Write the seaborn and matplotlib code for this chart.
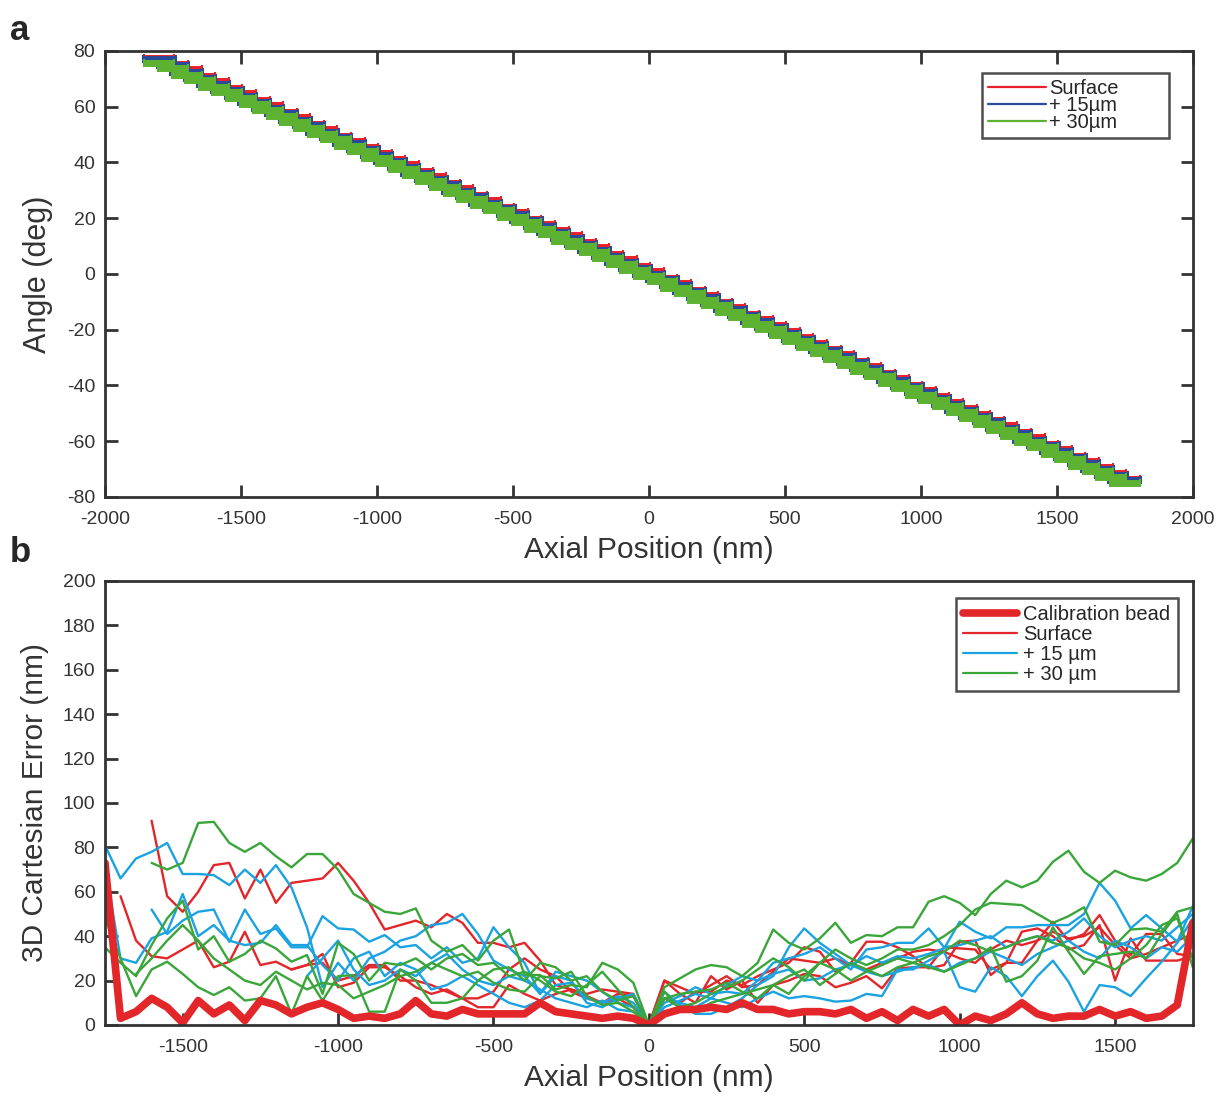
import matplotlib
matplotlib.use("Agg")
import matplotlib.pyplot as plt
from matplotlib.lines import Line2D
import seaborn as sns
import pandas as pd
import numpy as np

nan = np.nan

# ---------------- panel a: angle vs axial position ----------------
pos_a = [-1800, -1750, -1700, -1650, -1600, -1550, -1500, -1450, -1400, -1350,
         -1300, -1250, -1200, -1150, -1100, -1050, -1000, -950, -900, -850,
         -800, -750, -700, -650, -600, -550, -500, -450, -400, -350,
         -300, -250, -200, -150, -100, -50, 0, 50, 100, 150,
         200, 250, 300, 350, 400, 450, 500, 550, 600, 650,
         700, 750, 800, 850, 900, 950, 1000, 1050, 1100, 1150,
         1200, 1250, 1300, 1350, 1400, 1450, 1500, 1550, 1600, 1650,
         1700, 1750]

angle_surface = [77.3, 75.2, 73.4, 70.9, 69.1, 66.6, 64.8, 62.4, 60.6, 58.2, 56.3, 53.9, 52.0, 49.6,
                 47.8, 45.4, 43.5, 41.1, 39.3, 36.8, 35.0, 32.6, 30.8, 28.3, 26.5, 24.1, 22.3, 19.8,
                 18.0, 15.6, 13.8, 11.3, 9.5, 7.0, 5.2, 2.8, 0.9, -1.4, -3.4, -5.6, -7.5, -9.9,
                 -11.8, -14.2, -16.1, -18.4, -20.3, -22.7, -24.6, -26.9, -28.8, -31.2, -33.1, -35.4,
                 -37.3, -39.7, -41.6, -43.9, -45.8, -48.2, -50.1, -52.4, -54.3, -56.7, -58.6, -60.9,
                 -62.8, -65.2, -67.1, -69.4, -71.4, -73.6]
angle_15um = [77.0, 74.8, 72.4, 70.3, 68.1, 66.1, 63.9, 61.8, 59.6, 57.6, 55.4, 53.3, 51.1, 49.1,
              46.9, 44.8, 42.6, 40.6, 38.4, 36.3, 34.1, 32.1, 29.9, 27.8, 25.6, 23.6, 21.4, 19.3,
              17.1, 15.1, 12.9, 10.8, 8.6, 6.6, 4.4, 2.3, 0.1, -1.9, -4.1, -6.2, -8.4, -10.4,
              -12.6, -14.7, -16.9, -18.9, -21.1, -23.2, -25.4, -27.4, -29.6, -31.7, -33.9, -35.9,
              -38.1, -40.2, -42.4, -44.4, -46.6, -48.7, -50.9, -52.9, -55.1, -57.2, -59.4, -61.4,
              -63.6, -65.7, -67.9, -69.9, -72.1, -74.0]
angle_30um = [75.7, 73.8, 71.5, 69.5, 67.2, 65.3, 63.0, 61.0, 58.7, 56.8, 54.5, 52.5, 50.2, 48.3,
              46.0, 44.0, 41.7, 39.8, 37.5, 35.5, 33.2, 31.3, 29.0, 27.0, 24.7, 22.8, 20.5, 18.5,
              16.2, 14.3, 12.0, 10.0, 7.7, 5.8, 3.5, 1.5, -0.8, -2.7, -5.0, -7.0, -9.3, -11.2,
              -13.5, -15.5, -17.8, -19.7, -22.0, -24.0, -26.3, -28.2, -30.5, -32.5, -34.8, -36.7,
              -39.0, -41.0, -43.3, -45.2, -47.5, -49.5, -51.8, -53.7, -56.0, -58.0, -60.3, -62.2,
              -64.5, -66.5, -68.8, -70.7, -73.0, -74.9]
pos_err_a = [55, 60, 55]  # surface, +15, +30 (nm)

# ---------------- panel b: 3D error vs axial position ----------------
pos_b = [-1750, -1700, -1650, -1600, -1550, -1500, -1450, -1400, -1350, -1300,
         -1250, -1200, -1150, -1100, -1050, -1000, -950, -900, -850, -800,
         -750, -700, -650, -600, -550, -500, -450, -400, -350, -300,
         -250, -200, -150, -100, -50, 0, 50, 100, 150, 200,
         250, 300, 350, 400, 450, 500, 550, 600, 650, 700,
         750, 800, 850, 900, 950, 1000, 1050, 1100, 1150, 1200,
         1250, 1300, 1350, 1400, 1450, 1500, 1550, 1600, 1650, 1700, 1750]

cal_bead = [73, 3, 6, 12, 8, 1, 11, 5, 9, 2, 11, 9, 5, 8, 10, 7, 3, 4, 3, 5,
            11, 5, 4, 7, 5, 5, 5, 5, 10, 6, 5, 4, 3, 4, 3, 0,
            5, 7, 7, 8, 7, 10, 7, 7, 5, 6, 6, 5, 7, 3, 6, 2, 7, 4, 7, 0,
            4, 2, 5, 10, 5, 3, 4, 4, 7, 4, 6, 3, 4, 9, 46]

surf_1 = [nan, nan, nan,
          92, 58, 51, 60, 72, 73, 57, 70, 55, 64, 65, 66, 73, 65, 55, 43, 45, 47, 44, 50,
          46, 37, 37, 35, 37, 29, 18, 16, 13, 10, 14, 13, 0,
          20, 17, 14, 18, 22, 17, 18, 24, 30, 29, 28, 30, 27, 25, 28, 30, 33, 34, 33, 30,
          28, 34, 38, 36, 38, 42, 39, 40, 44, 36, 30, 32, 35, 38, 41]
surf_2 = [nan,
          58, 38, 31, 30, 34, 38, 26, 28.5, 42, 27, 28.5, 25, 27, 32, 17, 19, 26, 26, 22, 17,
          14, 16, 12, 8, 8, 18, 14, 11, 14, 16, 14, 16, 15, 14, 0,
          20, 14, 10, 22, 16, 20, 10, 18, 20, 23, 22, 17, 19, 22, 16.5, 25.5, 26, 26, 35, 34.5,
          34, 25, 28, 42, 43.5, 40, 34, 36, 45, 20, 39, 29, 29, 29, 31]
surf_3 = [nan, nan, nan, nan, nan, nan, nan, nan, nan, nan, nan, nan,
          25, 27, 28, 20, 22, 27, 27, 20, 20, 18, 15, 12, 12, 15, 25, 30, 25, 22, 15, 12,
          10, 12, 8, 0,
          12, 10, 15, 15, 20, 18, 22, 25, 28, 35, 33, 24, 28, 37.5, 37.5, 35, 31, 25.5, 27, 37.5,
          38, 22.5, 28, 28, 38, 46.5, 38, 41, 49.5, 38, 31.5, 41, 41, 32, 31]

um15_1 = [81, 66, 75, 78, 82, 68, 68, 67.5, 63, 70, 64, 72, 62, 44, 17, 28, 20, 30, 33, 38,
          40, 45, 46, 50, 41, 29, 25, 22, 14, 22, 20, 10, 8, 12, 14, 0,
          15, 9, 5, 5, 8, 12, 18, 22, 35, 43.5, 37, 32, 27, 31, 28, 31, 30, 32, 34.5, 46.5,
          42, 39, 44, 44, 45, 45, 45, 50, 64, 56, 43.5, 49.5, 43.5, 37.5, 53.5]
um15_2 = [nan, nan, nan,
          52, 41, 47, 51, 52, 37.5, 52, 41, 43.5, 35, 35, 49, 43.5, 43, 37.5, 40.5, 35, 36,
          30, 35, 28, 30, 44, 35, 28, 14, 24, 22, 20, 15, 10, 8, 0,
          12, 10, 8, 12, 18, 22, 20, 28, 30, 32, 35, 30, 25, 34, 35, 37, 37, 43.5, 35, 36,
          38, 40, 35, 38, 40, 38, 42, 48, 40, 35, 38, 40, 38, 44, 50]
um15_3 = [72, 30, 28, 39, 42, 59, 40, 45, 38, 36, 37, 45, 36, 36, 27, 20, 30, 33, 22, 28,
          25, 16, 18, 22, 18, 14, 10, 8, 11, 18, 19, 12, 10, 13, 10, 0,
          10, 13, 17, 14, 15, 14, 20, 23, 25, 20, 21, 25, 27, 24, 22, 24, 26, 27, 24, 28,
          30, 33, 30, 27, 32, 35, 38, 33, 30, 38, 35, 30, 35, 33, 40]
um15_4 = [nan, nan, nan, nan, nan, nan, nan, nan, nan, nan, nan, nan, nan,
          22, 30, 38, 25, 18, 20, 25, 22, 28, 32, 25, 20, 18, 22, 20, 16, 12, 10, 8, 11,
          7, 6, 0,
          8, 11, 14, 12, 10, 8, 12, 15, 12, 13, 12, 10.5, 11, 14, 13, 25, 25, 29, 33, 17,
          15, 26, 22, 13, 22, 29, 19.5, 6, 18, 17, 13, 21, 28.5, 37, 48]

um30_1 = [nan, nan, nan,
          73, 70, 73, 91, 91.5, 82, 78, 82, 76, 71, 77, 77, 70, 59, 55, 51, 50, 52.5,
          38, 33, 36, 29, 38, 43, 22.5, 22.5, 16, 18, 17, 28, 25, 19, 0,
          17, 21, 25, 27, 26, 22, 28, 43, 37, 34, 39, 46, 37, 40.5, 40, 44, 44, 55.5, 58, 55,
          49.5, 59, 65, 62, 65, 73.5, 78.5, 69, 64, 69.5, 66.5, 65, 68, 73, 84]
um30_2 = [48, 30, 13, 25, 28.5, 23, 17, 13.5, 17, 11, 12, 22, 5, 22, 11, 22, 22.5, 6, 6, 25,
          20, 10, 10, 12, 20, 25, 26, 20, 28, 26, 20, 22, 15, 11, 13, 0,
          12, 8, 10, 14, 17, 20, 25, 30, 26, 20, 28, 34, 30, 27, 30, 34, 34, 36, 40, 45,
          52, 55, 54.5, 54, 50, 46, 49, 53, 37.5, 36, 43, 43.5, 42, 51, 53]
um30_3 = [35, 28, 22, 36, 48, 56, 34, 40, 28.5, 32, 38, 34.5, 28.5, 31.5, 14, 37, 32, 20, 28, 27,
          30, 25, 30, 32, 27, 28, 22, 24, 20, 15, 13, 18, 24, 16, 8, 0,
          15, 7, 6, 10, 12, 14, 16, 18, 14, 22, 28, 25, 20, 24, 27, 30, 28, 26, 24, 27,
          30, 35, 19.5, 22, 29, 44, 33, 23, 31, 32, 33, 30, 41, 50, 26]
um30_4 = [nan, nan,
          23, 30, 38, 45, 38, 30, 25, 20, 18, 24, 20, 16, 19, 18, 12, 15, 18, 22, 24, 28,
          25, 22, 24, 19, 16, 15, 22, 21, 24, 13, 9, 10, 6, 0,
          12, 14, 15, 16, 19, 15, 12, 18, 22, 25, 18, 23, 28, 25, 22, 26, 28, 31, 33, 38,
          36, 33, 35, 38, 40, 37, 35, 30, 28, 25, 30, 36, 45, 48, 30]

# ---------------- style ----------------
sns.set_style("ticks")
plt.rcParams['font.family'] = ['Liberation Sans', 'DejaVu Sans']
plt.rcParams['axes.unicode_minus'] = False
ink = '#333333'

red_a, blue_a, green_a = '#E8202A', '#2A4B9B', '#5DB331'
red_b, blue_b, green_b = '#E3262A', '#1AA3E0', '#3AA63A'

fig = plt.figure(figsize=(12.25, 10.98), dpi=100)
ax_a = fig.add_axes([0.0857, 0.5474, 0.888, 0.4062])
ax_b = fig.add_axes([0.0857, 0.0665, 0.888, 0.4044])


def style_axes(ax, all_sides):
    for sp in ax.spines.values():
        sp.set_visible(True)
        sp.set_linewidth(2)
        sp.set_color(ink)
    ax.tick_params(direction='in', length=9, width=2, color=ink, labelsize=14,
                   labelcolor=ink, top=all_sides, right=all_sides)
    ax.tick_params(axis='x', pad=10)
    ax.tick_params(axis='y', pad=7)


# panel a
series_a = [(angle_surface, red_a, 'Surface'),
            (angle_15um, blue_a, '+ 15µm'),
            (angle_30um, green_a, '+ 30µm')]
for (ang, col, lab), xe in zip(series_a, pos_err_a):
    ax_a.errorbar(pos_a, ang, xerr=xe, fmt='none', ecolor=col, elinewidth=5,
                  capsize=3, capthick=1.5)
    sns.lineplot(x=pos_a, y=ang, ax=ax_a, color=col, lw=3, label=lab, sort=False)

ax_a.set_xlim(-2000, 2000)
ax_a.set_ylim(-80, 80)
ax_a.set_xticks(range(-2000, 2001, 500))
ax_a.set_yticks(range(-80, 81, 20))
ax_a.set_xlabel('Axial Position (nm)', fontsize=21.5, color=ink, labelpad=6)
ax_a.set_ylabel('Angle (deg)', fontsize=22, color=ink, labelpad=10)
style_axes(ax_a, True)
leg_a = ax_a.legend(loc='upper left', bbox_to_anchor=(0.806, 0.951, 0.172, 0), mode='expand',
                    fontsize=14.5, frameon=True, fancybox=False, edgecolor='#222222',
                    handlelength=2.9, handletextpad=0.15, labelspacing=-0.1,
                    borderpad=0.3, borderaxespad=0)
leg_a.get_frame().set_linewidth(1.8)
for h in leg_a.get_lines():
    h.set_linewidth(1.6)

# panel b
groups = [('Surface', [surf_1, surf_2, surf_3]),
          ('+ 15 µm', [um15_1, um15_2, um15_3, um15_4]),
          ('+ 30 µm', [um30_1, um30_2, um30_3, um30_4])]
rows = []
for cond, lines in groups:
    for k, vals in enumerate(lines):
        for p, v in zip(pos_b, vals):
            rows.append({'pos': p, 'err': v, 'cond': cond, 'bead': f'{cond}_{k}'})
df_b = pd.DataFrame(rows).dropna()

palette_b = {'Surface': red_b, '+ 15 µm': blue_b, '+ 30 µm': green_b}
sns.lineplot(data=df_b, x='pos', y='err', hue='cond', units='bead', estimator=None,
             palette=palette_b, lw=1.7, legend=False, sort=False, ax=ax_b)
sns.lineplot(x=pos_b, y=cal_bead, color=red_b, lw=5.5, ax=ax_b, sort=False)

ax_b.set_xlim(-1750, 1750)
ax_b.set_ylim(0, 200)
ax_b.set_xticks(range(-1500, 1501, 500))
ax_b.set_yticks(range(0, 201, 20))
ax_b.set_xlabel('Axial Position (nm)', fontsize=21.5, color=ink, labelpad=6)
ax_b.set_ylabel('3D Cartesian Error (nm)', fontsize=21.5, color=ink, labelpad=10)
style_axes(ax_b, False)

handles_b = [Line2D([], [], color=red_b, lw=5.5),
             Line2D([], [], color=red_b, lw=1.6),
             Line2D([], [], color=blue_b, lw=1.6),
             Line2D([], [], color=green_b, lw=1.6)]
labels_b = ['Calibration bead', 'Surface', '+ 15 µm', '+ 30 µm']
leg_b = ax_b.legend(handles_b, labels_b, loc='upper right', bbox_to_anchor=(0.986, 0.962),
                    fontsize=14.5, frameon=True, fancybox=False, edgecolor='#222222',
                    handlelength=2.7, handletextpad=0.3, labelspacing=0.05,
                    borderpad=0.35, borderaxespad=0)
leg_b.get_frame().set_linewidth(1.8)

fig.text(0.008, 0.972, 'a', fontsize=25, fontweight='bold', va='center')
fig.text(0.008, 0.497, 'b', fontsize=25, fontweight='bold', va='center')

fig.savefig('out.png', dpi=100)
